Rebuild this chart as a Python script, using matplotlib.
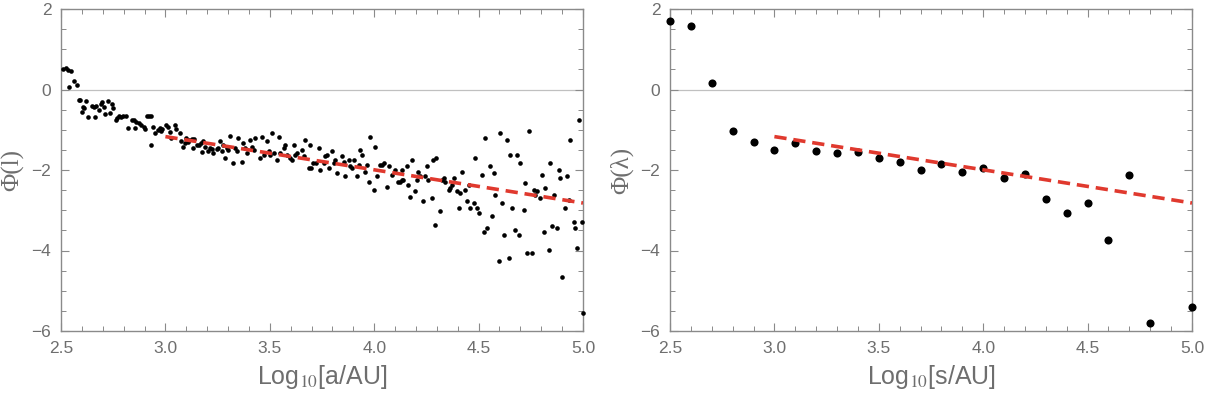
import matplotlib
matplotlib.use("Agg")
import matplotlib.pyplot as plt
from matplotlib.ticker import MultipleLocator

# ---- data: left panel (wide binaries, Phi(l)) ----
left_x = [
    2.511, 2.524, 2.535, 2.548, 2.540, 2.562, 2.575, 2.586, 2.592, 2.604,
    2.600, 2.620, 2.610, 2.628, 2.648, 2.658, 2.661, 2.668, 2.683, 2.692,
    2.696, 2.704, 2.710, 2.724, 2.735, 2.744, 2.750, 2.762, 2.768, 2.779,
    2.789, 2.798, 2.811, 2.821, 2.841, 2.850, 2.858, 2.854, 2.874, 2.885,
    2.896, 2.904, 2.912, 2.921, 2.929, 2.933,
    2.940, 2.950, 2.965, 2.973, 2.978, 2.984, 3.005, 3.012, 3.021, 3.028,
    3.045, 3.053, 3.069, 3.077, 3.085, 3.093, 3.101, 3.109, 3.115,
    3.126, 3.137, 3.134, 3.150, 3.161, 3.171, 3.174, 3.182, 3.190, 3.206,
    3.214, 3.222, 3.230, 3.246, 3.254, 3.262, 3.270, 3.278, 3.286, 3.294,
    3.302, 3.310, 3.326, 3.334, 3.342, 3.350, 3.366, 3.374, 3.382, 3.390,
    3.406, 3.414, 3.422, 3.430, 3.454, 3.462, 3.470, 3.486, 3.494, 3.502,
    3.510, 3.518, 3.534, 3.542, 3.550, 3.566, 3.574, 3.582, 3.598, 3.606,
    3.614, 3.622, 3.630, 3.654, 3.662, 3.670, 3.686, 3.697, 3.694, 3.707,
    3.723, 3.734, 3.742, 3.758, 3.766, 3.774, 3.782, 3.798, 3.806, 3.814,
    3.822, 3.846, 3.854, 3.862, 3.878, 3.886, 3.894, 3.902, 3.918, 3.926,
    3.934, 3.942, 3.958, 3.966, 3.974, 3.982, 3.998, 4.006, 4.014, 4.030,
    4.038, 4.046, 4.062, 4.073,
    4.084, 4.100, 4.116, 4.124, 4.132, 4.140, 4.132, 4.156, 4.164, 4.172,
    4.180, 4.196, 4.204, 4.212, 4.220, 4.236, 4.244, 4.252, 4.260, 4.276,
    4.284, 4.297, 4.292, 4.313, 4.324, 4.332, 4.340, 4.356, 4.364, 4.372,
    4.380, 4.396, 4.412, 4.404, 4.420, 4.436, 4.444, 4.452, 4.460, 4.476,
    4.484, 4.492, 4.500, 4.516, 4.524, 4.540, 4.532, 4.556, 4.564, 4.572,
    4.580, 4.596, 4.604, 4.612, 4.620, 4.636, 4.644, 4.652, 4.660, 4.676,
    4.684, 4.692, 4.700, 4.716, 4.724, 4.732, 4.756, 4.740, 4.764, 4.780,
    4.796, 4.772, 4.804, 4.812, 4.820, 4.836, 4.844, 4.852, 4.876, 4.860,
    4.884, 4.892, 4.900, 4.916, 4.924, 4.932, 4.940, 4.956, 4.964, 4.972,
    4.980, 4.996, 5.000,
]
left_y = [
    0.50, 0.53, 0.49, 0.45, 0.07, 0.20, 0.12, -0.27, -0.25, -0.44,
    -0.55, -0.29, -0.46, -0.68, -0.41, -0.44, -0.68, -0.42, -0.50, -0.36,
    -0.32, -0.44, -0.62, -0.28, -0.59, -0.37, -0.46, -0.75, -0.70, -0.66,
    -0.68, -0.66, -0.66, -0.95, -0.75, -0.76, -0.80, -0.96, -0.84, -0.88,
    -0.94, -0.97, -0.66, -0.66, -0.66, -1.37,
    -0.92, -1.08, -1.00, -0.95, -1.03, -0.97, -0.88, -0.92, -1.06, -1.20,
    -0.88, -0.98, -1.09, -1.28, -1.42, -1.33, -1.20, -1.31, -1.25,
    -1.24, -1.24, -1.46, -1.37, -1.37, -1.33, -1.56, -1.29, -1.42, -1.54,
    -1.46, -1.47, -1.58, -1.47, -1.46, -1.29, -1.54, -1.39, -1.71, -1.46,
    -1.50, -1.16, -1.82, -1.46, -1.54, -1.21, -1.79, -1.33, -1.46, -1.58,
    -1.25, -1.42, -1.50, -1.20, -1.71, -1.17, -1.62, -1.29, -1.54, -1.62,
    -1.08, -1.58, -1.75, -1.17, -1.58, -1.46, -1.37, -1.62, -1.71, -1.75,
    -1.37, -1.62, -1.58, -1.50, -1.66, -1.25, -1.95, -1.95, -1.37, -1.83,
    -1.83, -1.46, -2.00, -1.83, -1.66, -1.62, -1.95, -1.54, -1.83, -1.75,
    -2.08, -1.66, -1.79, -2.16, -1.75, -1.91, -1.95, -1.75, -2.16, -1.87,
    -1.50, -1.62, -2.04, -1.87, -2.29, -1.17, -2.49, -1.42, -2.16, -1.87,
    -1.87, -1.83, -2.41, -1.91,
    -2.12, -2.00, -2.29, -2.29, -2.24, -2.24, -2.00, -1.91, -2.37, -2.66,
    -1.75, -2.53, -2.24, -2.04, -2.16, -2.78, -2.16, -1.91, -2.24, -2.70,
    -1.75, -1.71, -3.36, -3.03, -2.24, -2.20, -2.29, -2.49, -2.45, -2.37,
    -2.20, -2.53, -2.58, -2.95, -2.04, -2.49, -2.78, -2.37, -2.95, -2.82,
    -1.71, -2.95, -3.07, -2.12, -3.53, -3.44, -1.21, -1.91, -3.15, -2.08,
    -2.62, -4.27, -1.08, -2.82, -3.61, -1.25, -4.19, -1.62, -2.95, -3.49,
    -1.62, -3.61, -1.83, -2.99, -2.33, -4.07, -4.07, -1.04, -2.49, -2.53,
    -2.70, -2.62, -2.12, -3.53, -2.45, -3.98, -1.83, -3.40, -3.44, -2.62,
    -2.00, -2.20, -4.65, -2.95, -2.16, -2.74, -1.25, -3.28, -3.44, -3.94,
    -0.75, -3.28, -5.56,
]

# ---- data: right panel (Phi(lambda)) ----
right_x = [2.5, 2.6, 2.7, 2.8, 2.9, 3.0, 3.1, 3.2, 3.3, 3.4, 3.5, 3.6, 3.7,
           3.8, 3.9, 4.0, 4.1, 4.2, 4.3, 4.4, 4.5, 4.6, 4.7, 4.8, 5.0]
right_y = [1.69, 1.57, 0.16, -1.04, -1.30, -1.51, -1.34, -1.54, -1.59, -1.55,
           -1.71, -1.80, -2.00, -1.84, -2.05, -1.96, -2.21, -2.09, -2.71,
           -3.08, -2.83, -3.74, -2.13, -5.81, -5.40]

# ---- fitted power law (red dashed) ----
fit_x = [3.0, 5.0]
fit_y = [-1.17, -2.82]

plt.rcParams['font.family'] = ['Liberation Sans', 'DejaVu Sans']
plt.rcParams['mathtext.fontset'] = 'stix'

W, H = 1205, 395
fig = plt.figure(figsize=(W / 100, H / 100), dpi=100)

frame_c = '#8a8a8a'
text_c = '#6e6e6e'
red = '#e0392e'

def style(ax, ylab, xlab):
    ax.set_xlim(2.5, 5.0)
    ax.set_ylim(-6, 2)
    ax.axhline(0, color='#c0c0c0', lw=0.9, zorder=1)
    ax.xaxis.set_major_locator(MultipleLocator(0.5))
    ax.xaxis.set_minor_locator(MultipleLocator(0.1))
    ax.yaxis.set_major_locator(MultipleLocator(2))
    ax.yaxis.set_minor_locator(MultipleLocator(0.5))
    ax.xaxis.set_major_formatter(plt.FuncFormatter(lambda v, p: f"{v:.1f}"))
    ax.yaxis.set_major_formatter(plt.FuncFormatter(
        lambda v, p: f"{int(round(v))}".replace('-', '\u2212')))
    ax.tick_params(which='both', direction='in', top=True, right=True,
                   color=frame_c, labelcolor=text_c, labelsize=12.5)
    ax.tick_params(which='major', length=6, width=0.8, pad=7)
    ax.tick_params(which='minor', length=3.5, width=0.7)
    for s in ax.spines.values():
        s.set_color(frame_c)
        s.set_linewidth(1.0)
    ax.set_ylabel(ylab, family='Liberation Serif', fontsize=18, color=text_c,
                  labelpad=5)
    ax.set_xlabel(xlab, fontsize=18, color=text_c, labelpad=5)

ax1 = fig.add_axes([61 / W, 1 - 331 / H, 522 / W, 322 / H])
style(ax1, '\u03a6(l)', 'Log$_{10}$[a/AU]')
ax1.scatter(left_x, left_y, s=11, color='black', zorder=3, clip_on=False,
            linewidths=0)
ax1.plot(fit_x, fit_y, color=red, lw=2.6, dashes=(3.4, 1.9), zorder=4)

ax2 = fig.add_axes([670 / W, 1 - 331 / H, 522 / W, 322 / H])
style(ax2, '\u03a6(\u03bb)', 'Log$_{10}$[s/AU]')
ax2.scatter(right_x, right_y, s=34, color='black', zorder=3, clip_on=False,
            linewidths=0)
ax2.plot(fit_x, fit_y, color=red, lw=2.6, dashes=(3.4, 1.9), zorder=4)

fig.savefig('out.png', dpi=100)
